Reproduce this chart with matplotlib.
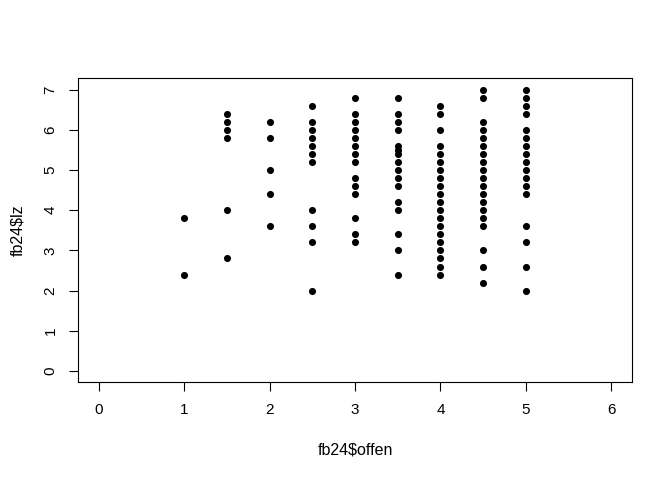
import numpy as np
import matplotlib
matplotlib.use("Agg")
import matplotlib.pyplot as plt

# fb24$offen values (x) with the fb24$lz values seen at each of them
offen_levels = [1.0, 1.5, 2.0, 2.5, 3.0, 3.5, 4.0, 4.5, 5.0]
lz_at_1_0 = [3.8, 2.4]
lz_at_1_5 = [6.4, 6.2, 6.0, 5.8, 4.0, 2.8]
lz_at_2_0 = [6.2, 5.8, 5.0, 4.4, 3.6]
lz_at_2_5 = [6.6, 6.2, 6.0, 5.8, 5.6, 5.4, 5.2, 4.0, 3.6, 3.2, 2.0]
lz_at_3_0 = [6.8, 6.4, 6.2, 6.0, 5.8, 5.6, 5.4, 5.2, 4.8, 4.6, 4.4, 3.8, 3.4, 3.2]
lz_at_3_5 = [6.8, 6.4, 6.2, 6.0, 5.6, 5.5, 5.4, 5.2, 5.0, 4.8, 4.6, 4.2, 4.0,
             3.4, 3.0, 2.4]
lz_at_4_0 = [6.6, 6.4, 6.0, 5.6, 5.4, 5.2, 5.0, 4.8, 4.6, 4.4, 4.2, 4.0, 3.8,
             3.6, 3.4, 3.2, 3.0, 2.8, 2.6, 2.4]
lz_at_4_5 = [7.0, 6.8, 6.2, 6.0, 5.8, 5.6, 5.4, 5.2, 5.0, 4.8, 4.6, 4.4, 4.2,
             4.0, 3.8, 3.6, 3.0, 2.6, 2.2]
lz_at_5_0 = [7.0, 6.8, 6.6, 6.4, 6.0, 5.8, 5.6, 5.4, 5.2, 5.0, 4.8, 4.6, 4.4,
             3.6, 3.2, 2.6, 2.0]
lz_columns = [lz_at_1_0, lz_at_1_5, lz_at_2_0, lz_at_2_5, lz_at_3_0,
              lz_at_3_5, lz_at_4_0, lz_at_4_5, lz_at_5_0]

x_ticks = [0, 1, 2, 3, 4, 5, 6]
y_ticks = [0, 1, 2, 3, 4, 5, 6, 7]

offen = np.concatenate([[x] * len(c) for x, c in zip(offen_levels, lz_columns)])
lz = np.concatenate(lz_columns)

plt.rcParams['font.family'] = ['Liberation Sans', 'DejaVu Sans']

fig = plt.figure(figsize=(6.72, 4.8), dpi=100)
ax = fig.add_axes([0.1165, 0.2035, 0.8235, 0.6333])

ax.scatter(offen, lz, s=26, c='black', marker='o', linewidths=0)

# R style: 4% padding beyond the range 0..6 / 0..7
ax.set_xlim(-0.24, 6.24)
ax.set_ylim(-0.28, 7.28)
ax.set_xticks(x_ticks)
ax.set_yticks(y_ticks)
ax.tick_params(direction='out', length=6.5, width=0.8, labelsize=11, colors='black')
ax.tick_params(axis='x', pad=8.5)
ax.tick_params(axis='y', pad=8.5)
for lab in ax.get_yticklabels():
    lab.set_rotation(90)
    lab.set_va('center')

for sp in ax.spines.values():
    sp.set_linewidth(0.8)

ax.set_xlabel('fb24$offen', fontsize=11.5, labelpad=18)
ax.set_ylabel('fb24$lz', fontsize=11.5, labelpad=13)

fig.savefig('out.png', dpi=100)
